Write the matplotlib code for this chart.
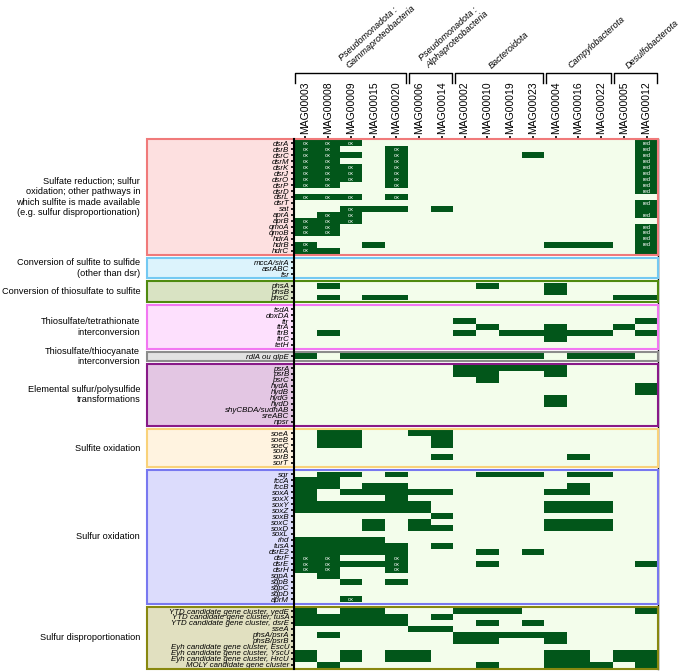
import matplotlib.pyplot as plt
import matplotlib.transforms as mtransforms
import numpy as np
from matplotlib.colors import ListedColormap
from matplotlib.patches import Rectangle

plt.rcParams['font.family'] = ['Liberation Sans', 'DejaVu Sans']

mags = ['MAG00003', 'MAG00008', 'MAG00009', 'MAG00015', 'MAG00020',
        'MAG00006', 'MAG00014',
        'MAG00002', 'MAG00010', 'MAG00019', 'MAG00023',
        'MAG00004', 'MAG00016', 'MAG00022',
        'MAG00005', 'MAG00012']

phyla = ['Pseudomonadota :\nGammaproteobacteria', 'Pseudomonadota :\nAlphaproteobacteria',
         'Bacteroidota', 'Campylobacterota', 'Desulfobacterota']
phylum_sizes = [5, 2, 4, 3, 2]

# one string per gene, one char per MAG:
# '.' absent, '#' present, 'o' present (ox), 'r' present (red)
sulfate_genes = ['dsrA', 'dsrB', 'dsrC', 'dsrM', 'dsrK', 'dsrJ', 'dsrO', 'dsrP', 'dsrD',
                 'dsrL', 'dsrT', 'sat', 'aprA', 'aprB', 'qmoA', 'qmoB', 'hdrA', 'hdrB', 'hdrC']
sulfate_hits = ['ooo............r',
                'oo..o..........r',
                'oo#.o.....#....r',
                'oo..o..........r',
                'ooo.o..........r',
                'ooo.o..........r',
                'ooo.o..........r',
                'oo..o..........r',
                '...............r',
                'ooo.o...........',
                '...............r',
                '..o##.#........#',
                '.oo............r',
                'ooo.............',
                'oo.............r',
                'oo.............r',
                '...............r',
                'o..#.......###.r',
                'o#.............#']

sulfide_genes = ['mccA/sirA', 'asrABC', 'fsr']
sulfide_hits = ['................',
                '................',
                '................']

thiosulfite_genes = ['phsA', 'phsB', 'phsC']
thiosulfite_hits = ['.#......#..#....',
                    '...........#....',
                    '.#.##.........##']

tetrathionate_genes = ['tsdA', 'doxDA', 'ttr', 'ttrA', 'ttrB', 'ttrC', 'tetH']
tetrathionate_hits = ['................',
                      '................',
                      '.......#.......#',
                      '........#..#..#.',
                      '.#.....#.#####.#',
                      '...........#....',
                      '................']

thiocyanate_genes = ['rdlA ou glpE']
thiocyanate_hits = ['#.#########.###.']

elemental_genes = ['psrA', 'psrB', 'psrC', 'hydA', 'hydB', 'hydG', 'hydD',
                   'shyCBDA/sudhAB', 'sreABC', 'npsr']
elemental_hits = ['.......#####....',
                  '.......##..#....',
                  '........#.......',
                  '...............#',
                  '...............#',
                  '...........#....',
                  '...........#....',
                  '................',
                  '................',
                  '................']

sulfite_ox_genes = ['soeA', 'soeB', 'soeC', 'sorA', 'sorB', 'sorT']
sulfite_ox_hits = ['.##..##.........',
                   '.##...#.........',
                   '.##...#.........',
                   '................',
                   '......#.....#...',
                   '................']

sulfur_ox_genes = ['sqr', 'fccA', 'fccB', 'soxA', 'soxX', 'soxY', 'soxZ', 'soxB', 'soxC',
                   'soxD', 'soxL', 'rhd', 'tusA', 'dsrE2', 'dsrF', 'dsrE', 'dsrH',
                   'sgpA', 'sgpB', 'sgpC', 'sgpD', 'aprM']
sulfur_ox_hits = ['.##.#...###.##..',
                  '##..............',
                  '##.##.......#...',
                  '#.#####....##...',
                  '#...#...........',
                  '######.....###..',
                  '######.....###..',
                  '......#.........',
                  '...#.#.....###..',
                  '...#.##....###..',
                  '................',
                  '####............',
                  '#####.#.........',
                  '#####...#.#.....',
                  'oo..o...........',
                  'oo##o...#......#',
                  'oo..o...........',
                  '.#..............',
                  '..#.#...........',
                  '................',
                  '................',
                  '..o.............']

dispro_genes = ['YTD candidate gene cluster, yedE', 'YTD candidate gene cluster, tusA',
                'YTD candidate gene cluster, dsrE', 'sseA', 'phsA/psrA', 'phsB/psrB',
                'Eyh candidate gene cluster, EscU', 'Eyh candidate gene cluster, YscU',
                'Eyh candidate gene cluster, HrcU', 'MOLY candidate gene cluster']
dispro_hits = ['#.##...###.....#',
               '#####.#.........',
               '#####...#.#.....',
               '.....##.........',
               '.#.....#####....',
               '.......##..#....',
               '................',
               '#.#.##.....##.##',
               '#.#.##.....##.##',
               '.#......#..###.#']

sections = [
    ('Sulfate reduction; sulfur\noxidation; other pathways in\nwhich sulfite is made available\n(e.g. sulfur disproportionation)',
     sulfate_genes, sulfate_hits, '#fde0e0', '#f07a7a'),
    ('Conversion of sulfite to sulfide\n(other than dsr)', sulfide_genes, sulfide_hits, '#dcf3fc', '#74c9f2'),
    ('Conversion of thiosulfate to sulfite', thiosulfite_genes, thiosulfite_hits, '#d9e3c3', '#4f8a10'),
    ('Thiosulfate/tetrathionate\ninterconversion', tetrathionate_genes, tetrathionate_hits, '#fde0fd', '#f277f2'),
    ('Thiosulfate/thiocyanate\ninterconversion', thiocyanate_genes, thiocyanate_hits, '#e2e2e2', '#8c8c8c'),
    ('Elemental sulfur/polysulfide\ntransformations', elemental_genes, elemental_hits, '#e3c6e3', '#881a88'),
    ('Sulfite oxidation', sulfite_ox_genes, sulfite_ox_hits, '#fff3e0', '#f9d27a'),
    ('Sulfur oxidation', sulfur_ox_genes, sulfur_ox_hits, '#dcdcfc', '#7878f0'),
    ('Sulfur disproportionation', dispro_genes, dispro_hits, '#e1e0c0', '#888810'),
]

DARK = '#02561a'
LIGHT = '#f3fdeb'
pad, gap = 0.25, 0.45
ext = 6.46  # label panel width, in columns

fig = plt.figure(figsize=(6.85, 6.71), dpi=100)
ax = fig.add_axes([294 / 685, 1 - 669 / 671, 364 / 685, 530 / 671])

y = 0
yticks, ylabels = [], []
for title, genes, hits, fill, edge in sections:
    n = len(genes)
    h = n + 2 * pad
    ax.add_patch(Rectangle((-ext, y), ext, h, facecolor=fill, edgecolor='none', clip_on=False, zorder=0))
    ax.add_patch(Rectangle((0, y), 16, h, facecolor=LIGHT, edgecolor='none', zorder=0))
    grid = np.array([[0 if c == '.' else 1 for c in row] for row in hits])
    ys = y + pad + np.arange(n + 1)
    ax.pcolormesh(np.arange(17), ys, np.ma.masked_equal(grid, 0),
                  cmap=ListedColormap([DARK]), zorder=1)
    for i, row in enumerate(hits):
        for j, c in enumerate(row):
            if c in 'or':
                ax.text(j + 0.5, ys[i] + 0.55, 'ox' if c == 'o' else 'red', color='white',
                        fontsize=4, ha='center', va='center', zorder=2)
    ax.add_patch(Rectangle((-ext, y), ext + 16, h, facecolor='none', edgecolor=edge,
                           lw=1.5, clip_on=False, zorder=4))
    ax.text(-ext - 0.3, y + h / 2, title, ha='right', va='center', fontsize=6.6, clip_on=False)
    yticks += list(ys[:-1] + 0.5)
    ylabels += genes
    y += h + gap
total = y - gap

ax.set_xlim(0, 16)
ax.set_ylim(total, 0)

ax.set_yticks(yticks, ylabels)
for lbl in ax.get_yticklabels():
    lbl.set_style('italic')
ax.tick_params(axis='y', length=2.5, width=1.2, pad=1, labelsize=5.7)

ax.xaxis.tick_top()
ax.set_xticks(np.arange(16) + 0.5, mags, rotation=90)
ax.tick_params(axis='x', length=2, width=1.2, pad=1.5, labelsize=7.5)

ax.spines['top'].set_visible(False)
ax.spines['bottom'].set_visible(False)
ax.spines['left'].set_linewidth(1.5)
ax.spines['left'].set_zorder(5)
ax.spines['right'].set_linewidth(1)

# phylum brackets above the MAG names
trans = mtransforms.blended_transform_factory(ax.transData, fig.transFigure)
y_br = 1 - 73 / 671
y_end = 1 - 83 / 671
start = 0
for name, size in zip(phyla, phylum_sizes):
    x0, x1 = start + 0.06, start + size - 0.06
    ax.plot([x0, x0, x1, x1], [y_end, y_br, y_br, y_end], color='black', lw=1,
            transform=trans, clip_on=False)
    lines = name.split('\n')
    shift = 0 if len(lines) > 1 else 0.25
    # last line sits on the bracket, earlier lines stack up-left of it
    for k, line in enumerate(reversed(lines)):
        t = mtransforms.offset_copy(trans, fig=fig, x=-7.5 * k, y=7.5 * k, units='dots')
        ax.text((x0 + x1) / 2 - shift, 1 - 70 / 671, line, rotation=42, rotation_mode='anchor',
                ha='left', va='bottom', fontsize=6.5, style='italic', transform=t)
    start += size

fig.savefig('out.png', dpi=100)
